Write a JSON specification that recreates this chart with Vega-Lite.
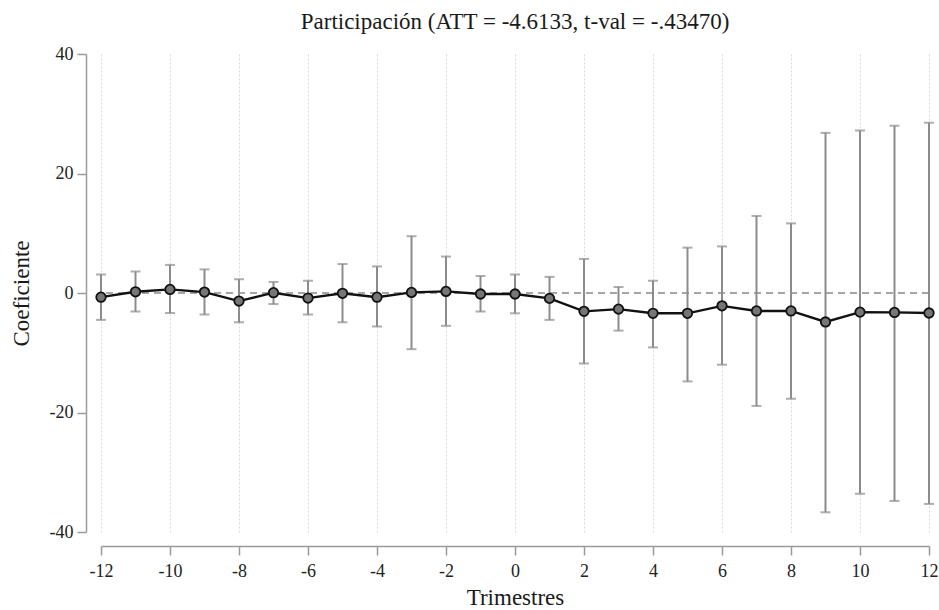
{
  "$schema": "https://vega.github.io/schema/vega-lite/v6.json",
  "width": 828,
  "height": 478,
  "autosize": "none",
  "padding": {"left": 101, "top": 54, "right": 10, "bottom": 78},
  "background": "white",
  "title": {
    "text": "Participación (ATT = -4.6133, t-val = -.43470)",
    "font": "Liberation Serif",
    "fontSize": 23,
    "fontWeight": "normal",
    "color": "#1a1a1a",
    "anchor": "middle",
    "baseline": "alphabetic",
    "offset": 13,
    "dy": 20
  },
  "config": {
    "view": {"stroke": null},
    "axis": {
      "labelFont": "Liberation Serif",
      "labelFontSize": 18,
      "labelColor": "#222222",
      "labelExpr": "'' + datum.value",
      "titleFont": "Liberation Serif",
      "titleFontSize": 23,
      "titleFontWeight": "normal",
      "titleColor": "#1a1a1a",
      "domainColor": "#9a9a9a",
      "domainWidth": 1.5,
      "tickColor": "#9a9a9a",
      "tickWidth": 1.5,
      "tickSize": 9,
      "gridColor": "#d9d9d9",
      "gridDash": [2, 2],
      "gridWidth": 1
    }
  },
  "data": {
    "values": [
      {"t": -12, "coef": -0.7, "lo": -4.5, "hi": 3.1},
      {"t": -11, "coef": 0.2, "lo": -3.1, "hi": 3.6},
      {"t": -10, "coef": 0.6, "lo": -3.35, "hi": 4.7},
      {"t": -9, "coef": 0.15, "lo": -3.6, "hi": 3.95},
      {"t": -8, "coef": -1.35, "lo": -4.9, "hi": 2.3},
      {"t": -7, "coef": 0.05, "lo": -1.85, "hi": 1.85},
      {"t": -6, "coef": -0.85, "lo": -3.6, "hi": 2.05},
      {"t": -5, "coef": -0.05, "lo": -4.9, "hi": 4.85},
      {"t": -4, "coef": -0.7, "lo": -5.6, "hi": 4.45},
      {"t": -3, "coef": 0.1, "lo": -9.4, "hi": 9.5},
      {"t": -2, "coef": 0.27, "lo": -5.5, "hi": 6.1},
      {"t": -1, "coef": -0.17, "lo": -3.1, "hi": 2.85},
      {"t": 0, "coef": -0.17, "lo": -3.4, "hi": 3.1},
      {"t": 1, "coef": -0.9, "lo": -4.5, "hi": 2.7},
      {"t": 2, "coef": -3.07, "lo": -11.8, "hi": 5.7},
      {"t": 3, "coef": -2.7, "lo": -6.3, "hi": 1.0},
      {"t": 4, "coef": -3.4, "lo": -9.1, "hi": 2.05},
      {"t": 5, "coef": -3.4, "lo": -14.8, "hi": 7.6},
      {"t": 6, "coef": -2.15, "lo": -12.0, "hi": 7.8},
      {"t": 7, "coef": -3.0, "lo": -18.9, "hi": 12.9},
      {"t": 8, "coef": -3.0, "lo": -17.7, "hi": 11.65},
      {"t": 9, "coef": -4.85, "lo": -36.7, "hi": 26.8},
      {"t": 10, "coef": -3.2, "lo": -33.6, "hi": 27.2},
      {"t": 11, "coef": -3.25, "lo": -34.8, "hi": 28.0},
      {"t": 12, "coef": -3.35, "lo": -35.3, "hi": 28.5}
    ]
  },
  "encoding": {
    "x": {
      "field": "t",
      "type": "quantitative",
      "scale": {"domain": [-12, 12], "nice": false, "zero": false},
      "axis": {
        "title": "Trimestres",
        "values": [-12, -10, -8, -6, -4, -2, 0, 2, 4, 6, 8, 10, 12],
        "offset": 14,
        "labelPadding": 7,
        "titlePadding": 6,
        "labelFlush": false
      }
    }
  },
  "layer": [
    {
      "mark": {"type": "rule", "color": "#a6a6a6", "strokeWidth": 2, "strokeDash": [7, 5]},
      "encoding": {"y": {"datum": 0, "type": "quantitative"}, "x": null}
    },
    {
      "mark": {"type": "rule", "color": "#8c8c8c", "strokeWidth": 2},
      "encoding": {
        "y": {
          "field": "lo",
          "type": "quantitative",
          "scale": {"domain": [-40, 40], "nice": false},
          "axis": {
            "title": "Coeficiente",
            "values": [-40, -20, 0, 20, 40],
            "offset": 15,
            "labelPadding": 4,
            "titlePadding": 16,
            "labelFlush": false
          }
        },
        "y2": {"field": "hi"}
      }
    },
    {
      "mark": {"type": "tick", "orient": "horizontal", "color": "#8c8c8c", "thickness": 2, "size": 10},
      "encoding": {"y": {"field": "lo", "type": "quantitative"}}
    },
    {
      "mark": {"type": "tick", "orient": "horizontal", "color": "#8c8c8c", "thickness": 2, "size": 10},
      "encoding": {"y": {"field": "hi", "type": "quantitative"}}
    },
    {
      "mark": {"type": "line", "color": "#111111", "strokeWidth": 2.4},
      "encoding": {"y": {"field": "coef", "type": "quantitative"}}
    },
    {
      "mark": {"type": "point", "shape": "circle", "filled": true, "fill": "#767676", "stroke": "#111111", "strokeWidth": 1.8, "size": 90, "opacity": 1},
      "encoding": {"y": {"field": "coef", "type": "quantitative"}}
    }
  ]
}
